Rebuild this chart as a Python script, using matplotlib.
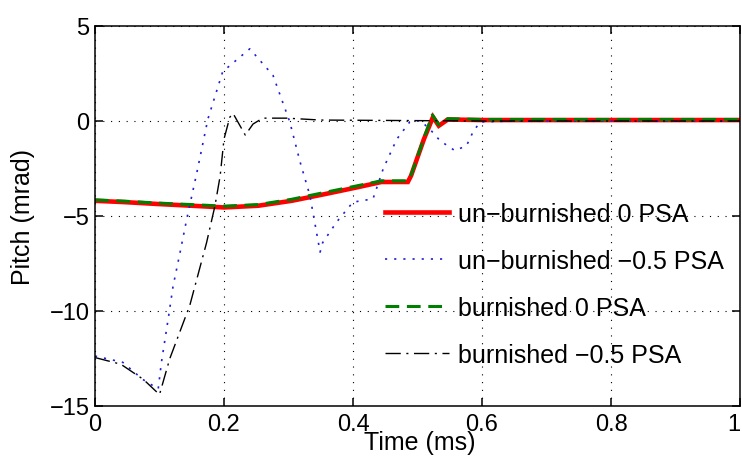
import matplotlib
matplotlib.use("Agg")
import matplotlib.pyplot as plt

plt.rcParams['font.family'] = ['Liberation Sans', 'DejaVu Sans']

# ---- data ----
t_red = [0.0, 0.046, 0.098, 0.15, 0.2, 0.253, 0.305, 0.356, 0.408, 0.444, 0.485,
         0.49, 0.51, 0.524, 0.533, 0.547, 0.6, 0.8, 1.0]
v_red = [-4.2, -4.27, -4.37, -4.46, -4.55, -4.46, -4.2, -3.85, -3.48, -3.21, -3.21,
         -2.88, -0.95, 0.21, -0.25, 0.08, 0.05, 0.05, 0.05]

t_blue = [0.0, 0.043, 0.074, 0.098, 0.103, 0.114, 0.121, 0.132, 0.142, 0.158, 0.175,
          0.198, 0.24, 0.276, 0.302, 0.318, 0.333, 0.349, 0.353, 0.375, 0.4, 0.431,
          0.447, 0.468, 0.488, 0.504, 0.519, 0.535, 0.558, 0.576, 0.586, 0.597,
          0.65, 1.0]
v_blue = [-12.37, -12.7, -13.6, -14.1, -12.7, -10.3, -8.7, -6.9, -5.2, -2.7, 0.1,
          2.6, 3.8, 2.4, -0.05, -2.16, -3.9, -6.9, -6.4, -5.3, -4.27, -4.1,
          -2.5, -0.95, -0.05, 0.02, -0.42, -1.04, -1.56, -1.3, -0.58, -0.05,
          0.0, 0.0]

t_green = [0.0, 0.046, 0.098, 0.15, 0.2, 0.253, 0.305, 0.356, 0.408, 0.444, 0.485,
           0.49, 0.51, 0.523, 0.533, 0.547, 0.6, 0.8, 1.0]
v_green = [-4.15, -4.22, -4.32, -4.4, -4.48, -4.4, -4.12, -3.76, -3.4, -3.15, -3.15,
           -2.85, -0.9, 0.32, -0.2, 0.12, 0.08, 0.08, 0.08]

t_black = [0.0, 0.04, 0.075, 0.1, 0.116, 0.147, 0.173, 0.186, 0.194, 0.2, 0.209,
           0.214, 0.233, 0.245, 0.26, 0.297, 0.35, 0.6, 1.0]
v_black = [-12.45, -12.8, -13.6, -14.4, -12.5, -9.7, -6.4, -4.46, -2.9, -0.95, 0.2,
           0.4, -0.74, -0.16, 0.15, 0.15, 0.05, 0.0, 0.0]

labels = ['un\u2212burnished 0 PSA', 'un\u2212burnished \u22120.5 PSA',
          'burnished 0 PSA', 'burnished \u22120.5 PSA']
x_ticks = [0, 0.2, 0.4, 0.6, 0.8, 1]
x_ticklabels = ['0', '0.2', '0.4', '0.6', '0.8', '1']
y_ticks = [-15, -10, -5, 0, 5]
y_ticklabels = ['\u221215', '\u221210', '\u22125', '0', '5']

W, H = 742, 464
fig = plt.figure(figsize=(W / 100, H / 100), dpi=100)
ax = fig.add_axes([95 / W, 1 - 407 / H, (740 - 95) / W, (407 - 27) / H])

l1, = ax.plot(t_red, v_red, color='#ff0000', lw=3.3, solid_joinstyle='miter')
l2, = ax.plot(t_blue, v_blue, color='#1f1fd8', lw=1.2, linestyle=(0, (1.3, 4.2)))
l3, = ax.plot(t_green, v_green, color='#008000', lw=2.2, linestyle=(0, (4.5, 2.5)))
l4, = ax.plot(t_black, v_black, color='black', lw=1.0, linestyle=(0, (11, 4, 1.5, 4)))

ax.set_xlim(0, 1)
ax.set_ylim(-15, 5)
ax.set_xticks(x_ticks)
ax.set_xticklabels(x_ticklabels)
ax.set_yticks(y_ticks)
ax.set_yticklabels(y_ticklabels)
ax.tick_params(direction='in', length=6, width=1.1, top=True, right=True,
               labelsize=17, colors='black')
ax.tick_params(axis='x', pad=5)
ax.tick_params(axis='y', pad=4)
ax.get_xticklabels()[-1].set_ha('right')
for s in ax.spines.values():
    s.set_linewidth(1.1)
ax.grid(True, color='black', lw=0.8, linestyle=(0, (1, 6)))

ax.set_xlabel('Time (ms)', fontsize=18)
ax.set_ylabel('Pitch (mrad)', fontsize=18)
ax.xaxis.set_label_coords(0.504, -0.062)
ax.xaxis.label.set_va('top')
ax.yaxis.set_label_coords(-0.093, 0.5)

leg = ax.legend([l1, l2, l3, l4], labels, loc='upper left',
                bbox_to_anchor=(385 / W, 1 - 203 / H), bbox_transform=fig.transFigure,
                frameon=False, fontsize=18, handlelength=2.55, handletextpad=0.35,
                labelspacing=0.92, borderpad=0, borderaxespad=0)

fig.savefig('out.png', dpi=100)
